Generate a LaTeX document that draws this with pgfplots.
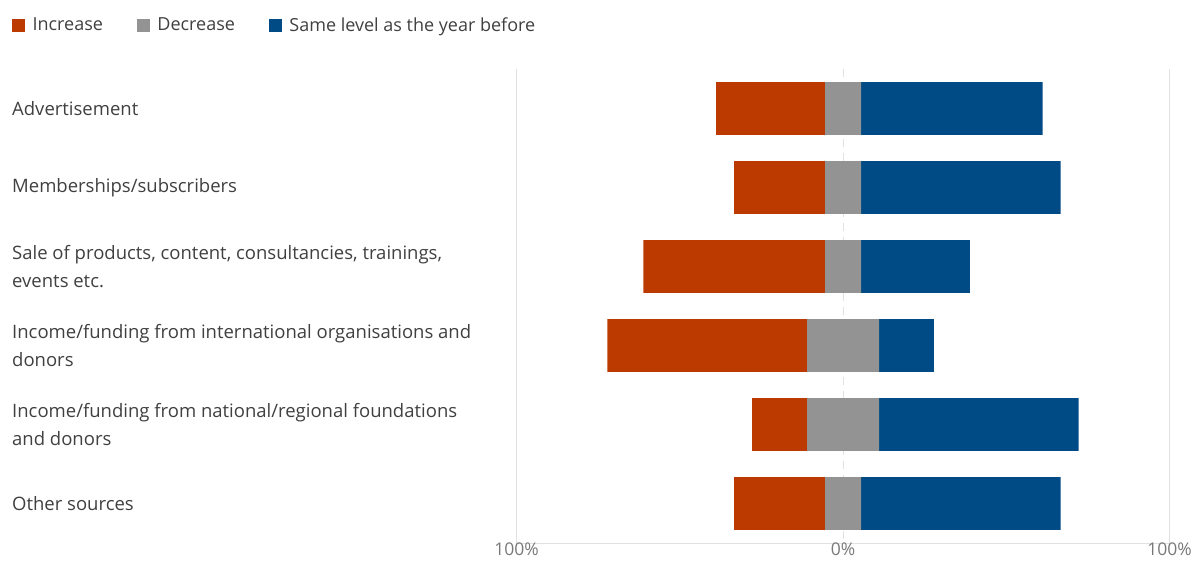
\documentclass[border=0pt]{standalone}
\usepackage{fontspec}
\setmainfont{Open Sans}
\usepackage{pgfplots}
\pgfplotsset{compat=1.18}

\definecolor{incr}{RGB}{188,58,0}
\definecolor{decr}{RGB}{147,147,147}
\definecolor{same}{RGB}{0,74,133}
\definecolor{lbl}{RGB}{64,64,64}
\definecolor{tck}{RGB}{120,120,120}
\definecolor{grd}{RGB}{225,225,225}

\begin{document}
\begin{tikzpicture}
\useasboundingbox (0,0) rectangle (1195pt,560pt);
% x runs 0..200 here; 100 is the 0% line (so every stacked value stays positive)
\begin{axis}[
    at={(516.5pt,17pt)}, anchor=south west,
    scale only axis,
    width=653pt, height=474pt,
    xbar stacked,
    bar width=0.667,
    xmin=0, xmax=200,
    ymin=-0.5, ymax=5.5,
    y dir=reverse,
    axis x line*=bottom,
    axis y line*=left,
    y axis line style={draw=none},
    x axis line style={grd, -},
    major tick length=0pt,
    xtick={0,200},
    xticklabels={100\%,100\%},
    extra x ticks={100},
    extra x tick labels={0\%},
    extra x tick style={grid style={grd, dashed, dash pattern=on 8pt off 6pt, line width=1pt}},
    xmajorgrids,
    grid style={grd, line width=1pt},
    /pgf/number format/assume math mode=true,
    xticklabel style={font=\fontsize{17.5}{19}\selectfont, text=tck, inner sep=0pt, yshift=0pt},
    ytick={0,1,2,3,4,5},
    yticklabels={
        Advertisement,
        Memberships/subscribers,
        {Sale of products, content, consultancies, trainings,\\events etc.},
        {Income/funding from international organisations and\\donors},
        {Income/funding from national/regional foundations\\and donors},
        Other sources},
    yticklabel style={anchor=west, align=left, inner sep=0pt, xshift=-504.5pt,
        font=\fontsize{18.5}{28}\selectfont, text=lbl},
    legend columns=-1,
    legend style={at={(-0.7726,1.093)}, anchor=west, draw=none, fill=none,
        inner sep=0pt, font=\fontsize{18}{20}\selectfont, text=lbl,
        nodes={inner sep=0pt},
        /tikz/every odd column/.append style={column sep=8pt},
        /tikz/every even column/.append style={column sep=34pt}},
]
\addlegendimage{legend image code/.code={\fill[incr] (0pt,-6pt) rectangle (12pt,6pt);}}
\addlegendimage{legend image code/.code={\fill[decr] (0pt,-6pt) rectangle (12pt,6pt);}}
\addlegendimage{legend image code/.code={\fill[same] (0pt,-6pt) rectangle (12pt,6pt);}}
\legend{Increase, Decrease, Same level as the year before}
% invisible offsets so that "Decrease" is centred on the 0% line
\addplot[draw=none, fill=none] coordinates {
    (61.15,0) (66.65,1) (38.85,2) (27.8,3) (72.2,4) (66.65,5)};
\addplot[fill=incr, draw=none] coordinates {
    (33.3,0) (27.8,1) (55.6,2) (61.1,3) (16.7,4) (27.8,5)};
\addplot[fill=decr, draw=none] coordinates {
    (11.1,0) (11.1,1) (11.1,2) (22.2,3) (22.2,4) (11.1,5)};
\addplot[fill=same, draw=none] coordinates {
    (55.6,0) (61.1,1) (33.3,2) (16.7,3) (61.1,4) (61.1,5)};
\end{axis}
\end{tikzpicture}
\end{document}
